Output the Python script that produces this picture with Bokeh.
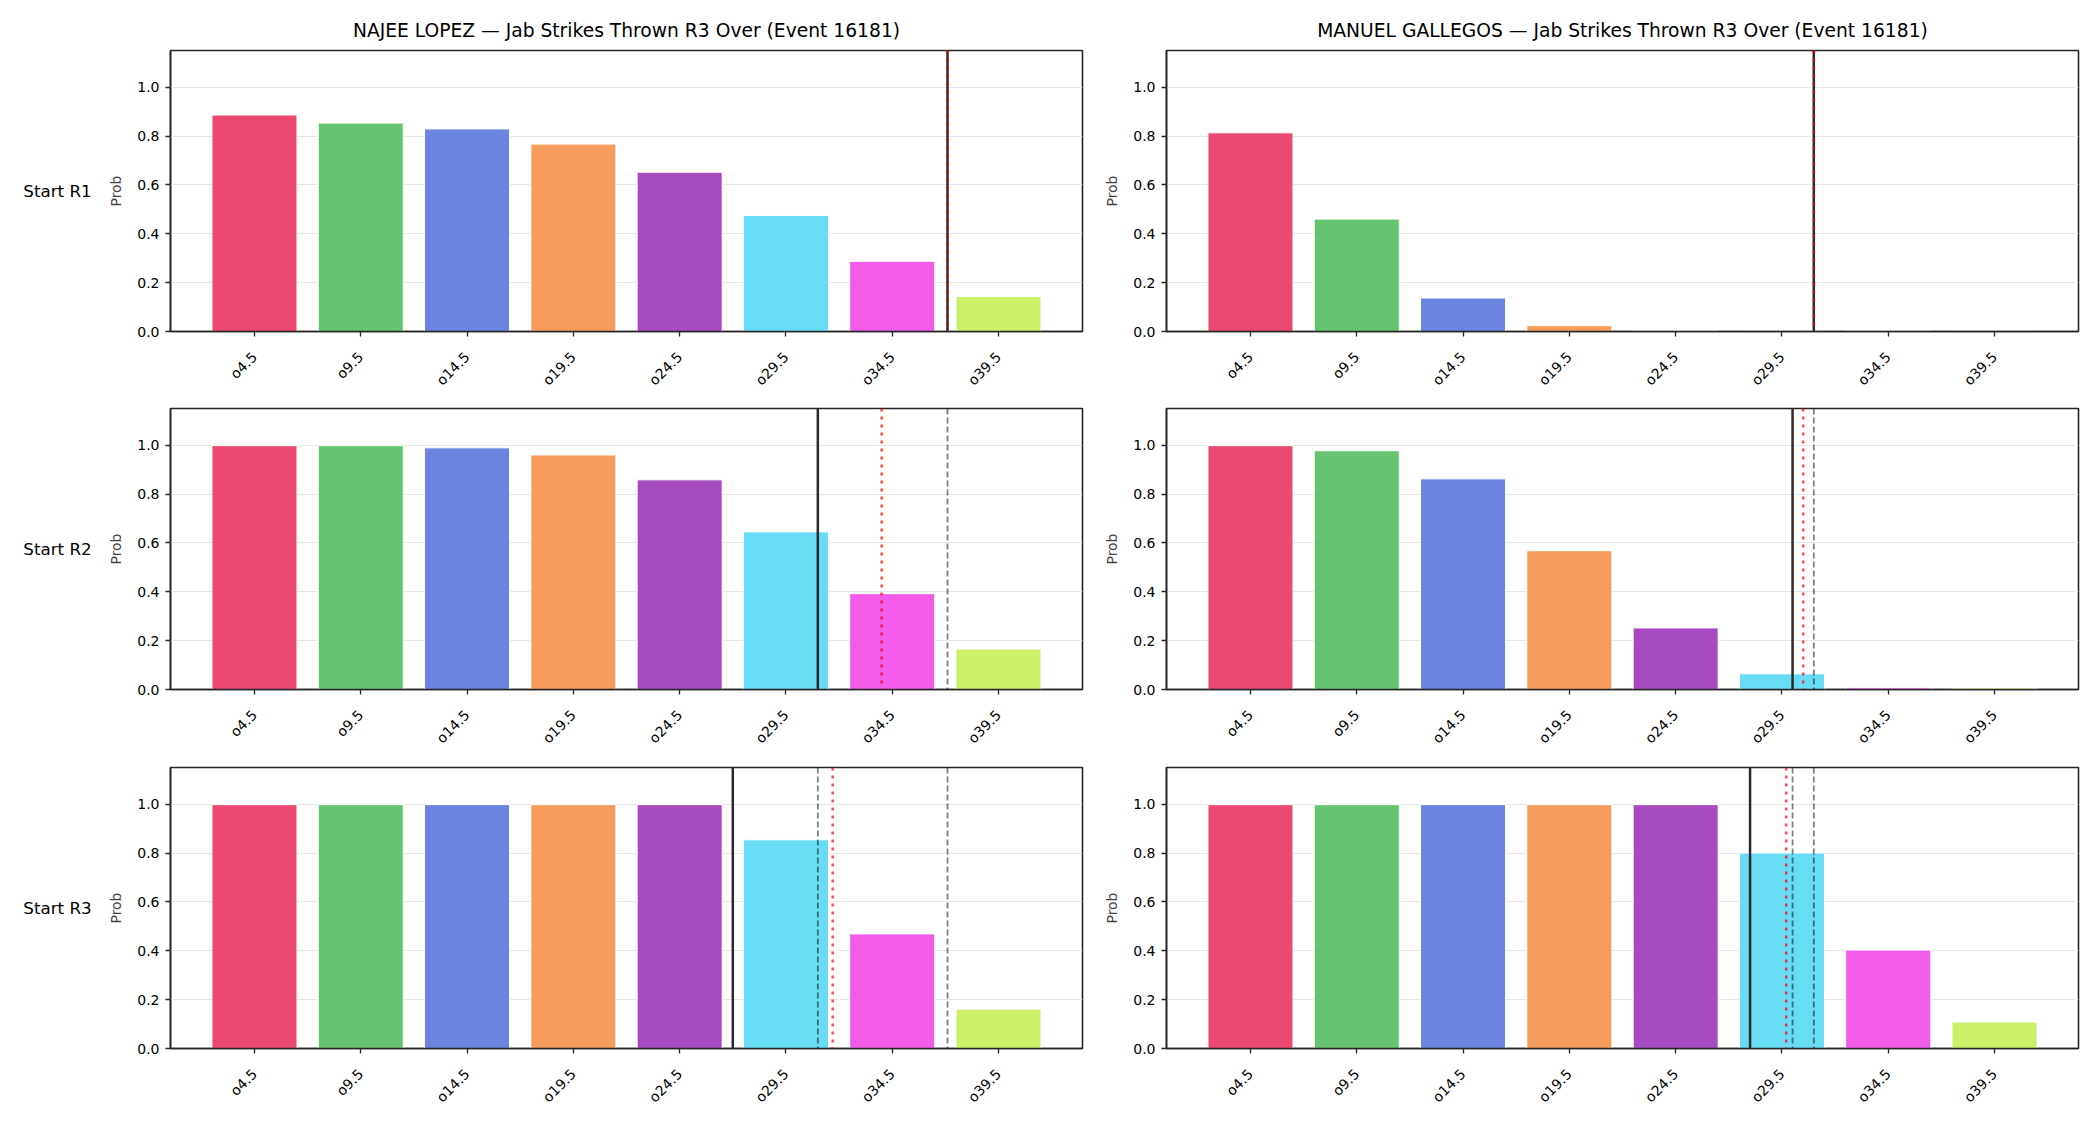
import math
from bokeh.plotting import figure
from bokeh.layouts import column, row
from bokeh.models import Range1d, FixedTicker, Span, NumeralTickFormatter
from bokeh.core.properties import value
from bokeh.embed import file_html
from bokeh.resources import INLINE

# ---- data -------------------------------------------------------------
thresholds = ["o4.5", "o9.5", "o14.5", "o19.5", "o24.5", "o29.5", "o34.5", "o39.5"]
fighters = ["NAJEE LOPEZ", "MANUEL GALLEGOS"]
row_names = ["Start R1", "Start R2", "Start R3"]
event_id = 16181
market = "Jab Strikes Thrown R3 Over"

# P(over) for each threshold, by starting round
lopez_r1 = [0.886, 0.853, 0.829, 0.767, 0.652, 0.475, 0.287, 0.143]
lopez_r2 = [0.998, 0.998, 0.989, 0.960, 0.858, 0.645, 0.392, 0.166]
lopez_r3 = [0.998, 0.998, 0.998, 0.998, 0.998, 0.854, 0.469, 0.161]
gallegos_r1 = [0.813, 0.460, 0.137, 0.024, 0.003, 0.001, 0.002, 0.001]
gallegos_r2 = [0.998, 0.977, 0.862, 0.568, 0.252, 0.064, 0.007, 0.006]
gallegos_r3 = [0.998, 0.998, 0.998, 0.998, 0.998, 0.800, 0.403, 0.108]

# projected jab count (solid) and model mean (dotted) by starting round
lopez_proj = [37.1, 31.0, 27.0]
lopez_mean = [37.1, 34.0, 31.7]
gallegos_proj = [31.0, 30.0, 28.0]
gallegos_mean = [31.0, 30.5, 29.7]

bar_colors = ["#EC4970", "#66C470", "#6B84DF", "#F69C5C",
              "#A64CC0", "#68DBF5", "#F25BE8", "#CCF068"]

probs = {
    0: [lopez_r1, lopez_r2, lopez_r3],
    1: [gallegos_r1, gallegos_r2, gallegos_r3],
}
proj = {0: lopez_proj, 1: gallegos_proj}
means = {0: lopez_mean, 1: gallegos_mean}

# ---- helpers ----------------------------------------------------------
FONT = "DejaVu Sans"
line_values = [float(t[1:]) for t in thresholds]
idx = list(range(len(thresholds)))
step = line_values[1] - line_values[0]
Y_TOP = 1.15


def to_pos(v):
    """Map a strike count onto the threshold (bar index) axis."""
    return (v - line_values[0]) / step


X0, X1 = -0.79, 7.79
FRAME_W, FRAME_H = 912, 281
LABEL_W = 95                                  # strip holding the row names
col_border = [(75, 14), (70, 22)]            # left/right borders per column
row_border = [(50, 66), (11, 66), (12, 77)]   # top/bottom borders per row


def row_label(r):
    bt, bb = row_border[r]
    p = figure(width=LABEL_W, height=bt + FRAME_H + bb, output_backend="svg",
               toolbar_location=None,
               x_range=Range1d(0, LABEL_W), y_range=Range1d(0, Y_TOP),
               x_axis_type=None, y_axis_type=None,
               min_border_left=0, min_border_right=0,
               min_border_top=bt, min_border_bottom=bb,
               background_fill_color="white", border_fill_color="white")
    p.outline_line_color = None
    p.text(x=[57], y=[Y_TOP / 2], text=[row_names[r]],
           text_align="center", text_baseline="middle",
           text_font=value(FONT), text_font_size="16.7px", text_color="#000000")
    return p


def make_panel(c, r):
    bl, br = col_border[c]
    bt, bb = row_border[r]
    p = figure(width=bl + FRAME_W + br, height=bt + FRAME_H + bb,
               output_backend="svg", toolbar_location=None,
               x_range=Range1d(X0, X1), y_range=Range1d(0, Y_TOP),
               min_border_left=bl, min_border_right=br,
               min_border_top=bt, min_border_bottom=bb,
               background_fill_color="white", border_fill_color="white")
    if r == 0:
        p.title.text = f"{fighters[c]} \u2014 {market} (Event {event_id})"
        p.title.text_font = FONT
        p.title.text_font_size = "18.7px"
        p.title.text_font_style = "normal"
        p.title.align = "center"
        p.title.text_color = "#000000"
        p.title.standoff = 19

    p.vbar(x=idx, top=probs[c][r], width=0.8, bottom=0,
           fill_color=bar_colors, line_color="white", line_width=1)

    # earlier rounds' projections
    for k in range(r):
        p.add_layout(Span(location=to_pos(proj[c][k]), dimension="height",
                          line_color="black", line_alpha=0.5, line_width=1.8,
                          line_dash="6 3"))
    p.add_layout(Span(location=to_pos(proj[c][r]), dimension="height",
                      line_color="#2a2a2a", line_width=2.5))
    p.add_layout(Span(location=to_pos(means[c][r]), dimension="height",
                      line_color="red", line_alpha=0.7, line_width=2.5,
                      line_dash="3 5"))

    # axes styling
    p.outline_line_color = "#262626"
    p.outline_line_width = 1.6
    p.outline_line_alpha = 1.0
    p.xgrid.grid_line_color = None
    p.ygrid.grid_line_color = "#e6e6e6"
    p.ygrid.grid_line_width = 1
    p.ygrid.ticker = FixedTicker(ticks=[0.0, 0.2, 0.4, 0.6, 0.8, 1.0])

    p.xaxis.ticker = FixedTicker(ticks=idx)
    p.xaxis.major_label_overrides = {i: t for i, t in enumerate(thresholds)}
    p.xaxis.major_label_orientation = math.pi / 4
    p.yaxis.ticker = FixedTicker(ticks=[0.0, 0.2, 0.4, 0.6, 0.8, 1.0])
    p.yaxis.formatter = NumeralTickFormatter(format="0.0")
    p.yaxis.axis_label = "Prob"
    p.yaxis.axis_label_text_font = FONT
    p.yaxis.axis_label_text_font_size = "13.9px"
    p.yaxis.axis_label_text_font_style = "normal"
    p.yaxis.axis_label_standoff = 10
    for ax in (p.xaxis, p.yaxis):
        ax.axis_line_color = "#262626"
        ax.axis_line_width = 1.6
        ax.major_tick_line_color = "#262626"
        ax.major_tick_line_width = 1.3
        ax.major_tick_out = 5
        ax.major_tick_in = 0
        ax.minor_tick_line_color = None
        ax.major_label_text_font = FONT
        ax.major_label_text_font_size = "14px"
        ax.major_label_text_color = "#000000"
    p.yaxis.major_label_standoff = 6
    p.xaxis.major_label_standoff = 18
    return p


rows = [row(row_label(r), make_panel(0, r), make_panel(1, r)) for r in range(3)]
layout = column(*rows)

open("out.html", "w").write(file_html(layout, INLINE))
